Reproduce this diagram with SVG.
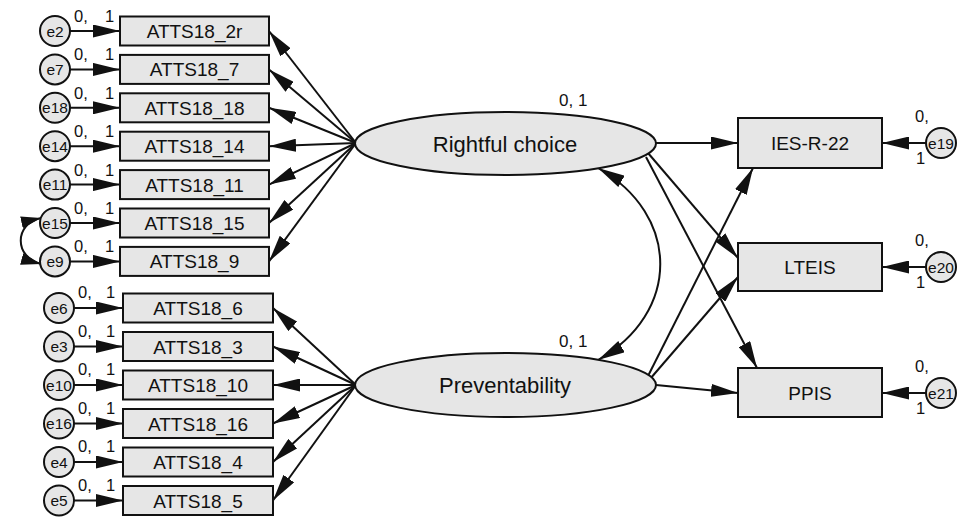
<svg xmlns="http://www.w3.org/2000/svg" width="958" height="518" viewBox="0 0 958 518">
<style>
.box{fill:#e6e6e6;stroke:#111;stroke-width:2}
.lat{fill:#e6e6e6;stroke:#111;stroke-width:2}
.err{fill:#e6e6e6;stroke:#111;stroke-width:2}
.ln{fill:none;stroke:#111;stroke-width:2}
.t{font-family:"Liberation Sans",Arial,sans-serif;fill:#111}
.bt{font-size:19px;text-anchor:middle}
.lt{font-size:22px;text-anchor:middle}
.et{font-size:15.5px;text-anchor:middle}
.pt{font-size:16.5px}
</style>
<defs>
<marker id="a" viewBox="0 0 27 13" refX="27" refY="6.5" markerWidth="27" markerHeight="13" markerUnits="userSpaceOnUse" orient="auto-start-reverse"><path d="M0,0 L27,6.5 L0,13 z" fill="#111"/></marker>
<marker id="s" viewBox="0 0 20 12" refX="20" refY="6" markerWidth="20" markerHeight="12" markerUnits="userSpaceOnUse" orient="auto-start-reverse"><path d="M0,0 L20,6 L0,12 z" fill="#111"/></marker>
</defs>
<g id="connectors">
<line class="ln" x1="356" y1="143" x2="269" y2="31" marker-end="url(#a)"/>
<line class="ln" x1="356" y1="143" x2="269" y2="69.4" marker-end="url(#a)"/>
<line class="ln" x1="356" y1="143" x2="269" y2="107.8" marker-end="url(#a)"/>
<line class="ln" x1="356" y1="143" x2="269" y2="146.2" marker-end="url(#a)"/>
<line class="ln" x1="356" y1="143" x2="269" y2="184.6" marker-end="url(#a)"/>
<line class="ln" x1="356" y1="143" x2="269" y2="223" marker-end="url(#a)"/>
<line class="ln" x1="356" y1="143" x2="269" y2="261.4" marker-end="url(#a)"/>
<line class="ln" x1="356" y1="385" x2="273" y2="308" marker-end="url(#a)"/>
<line class="ln" x1="356" y1="385" x2="273" y2="346.5" marker-end="url(#a)"/>
<line class="ln" x1="356" y1="385" x2="273" y2="385" marker-end="url(#a)"/>
<line class="ln" x1="356" y1="385" x2="273" y2="423.5" marker-end="url(#a)"/>
<line class="ln" x1="356" y1="385" x2="273" y2="462" marker-end="url(#a)"/>
<line class="ln" x1="356" y1="385" x2="273" y2="500.5" marker-end="url(#a)"/>
<line class="ln" x1="70" y1="31" x2="120" y2="31" marker-end="url(#a)"/>
<line class="ln" x1="70" y1="69.4" x2="120" y2="69.4" marker-end="url(#a)"/>
<line class="ln" x1="70" y1="107.8" x2="120" y2="107.8" marker-end="url(#a)"/>
<line class="ln" x1="70" y1="146.2" x2="120" y2="146.2" marker-end="url(#a)"/>
<line class="ln" x1="70" y1="184.6" x2="120" y2="184.6" marker-end="url(#a)"/>
<line class="ln" x1="70" y1="223" x2="120" y2="223" marker-end="url(#a)"/>
<line class="ln" x1="70" y1="261.4" x2="120" y2="261.4" marker-end="url(#a)"/>
<line class="ln" x1="74" y1="308" x2="123" y2="308" marker-end="url(#a)"/>
<line class="ln" x1="74" y1="346.5" x2="123" y2="346.5" marker-end="url(#a)"/>
<line class="ln" x1="74" y1="385" x2="123" y2="385" marker-end="url(#a)"/>
<line class="ln" x1="74" y1="423.5" x2="123" y2="423.5" marker-end="url(#a)"/>
<line class="ln" x1="74" y1="462" x2="123" y2="462" marker-end="url(#a)"/>
<line class="ln" x1="74" y1="500.5" x2="123" y2="500.5" marker-end="url(#a)"/>
<path class="ln" d="M41,218 C14,224 14,257 41,264" marker-start="url(#s)" marker-end="url(#s)"/>
<path class="ln" d="M598,168 C681,215 681,313 598,360" marker-start="url(#a)" marker-end="url(#a)"/>
<line class="ln" x1="656" y1="143" x2="738" y2="143" marker-end="url(#a)"/>
<line class="ln" x1="648" y1="153" x2="738" y2="258" marker-end="url(#a)"/>
<line class="ln" x1="646" y1="157" x2="757" y2="368" marker-end="url(#a)"/>
<line class="ln" x1="648" y1="376" x2="753" y2="168" marker-end="url(#a)"/>
<line class="ln" x1="650" y1="379" x2="738" y2="277" marker-end="url(#a)"/>
<line class="ln" x1="656" y1="385" x2="738" y2="393" marker-end="url(#a)"/>
<line class="ln" x1="926" y1="143" x2="882" y2="143" marker-end="url(#a)"/>
<line class="ln" x1="926" y1="267" x2="882" y2="267" marker-end="url(#a)"/>
<line class="ln" x1="926" y1="393" x2="882" y2="393" marker-end="url(#a)"/>
</g>
<g id="RightfulChoice"><ellipse class="lat" cx="505.5" cy="143.5" rx="150.5" ry="31.5"/><text class="t lt" x="505" y="151.5">Rightful choice</text><text class="t" style="font-size:17px" x="559" y="106">0, 1</text></g>
<g id="Preventability"><ellipse class="lat" cx="505.5" cy="385" rx="150.5" ry="32"/><text class="t lt" x="505" y="393">Preventability</text><text class="t" style="font-size:17px" x="559" y="347">0, 1</text></g>
<g id="ATTS18_2r"><rect class="box" x="120" y="16.5" width="149" height="29"/><text class="t bt" x="194.5" y="38">ATTS18_2r</text></g>
<g id="ATTS18_7"><rect class="box" x="120" y="54.9" width="149" height="29"/><text class="t bt" x="194.5" y="76.4">ATTS18_7</text></g>
<g id="ATTS18_18"><rect class="box" x="120" y="93.3" width="149" height="29"/><text class="t bt" x="194.5" y="114.8">ATTS18_18</text></g>
<g id="ATTS18_14"><rect class="box" x="120" y="131.7" width="149" height="29"/><text class="t bt" x="194.5" y="153.2">ATTS18_14</text></g>
<g id="ATTS18_11"><rect class="box" x="120" y="170.1" width="149" height="29"/><text class="t bt" x="194.5" y="191.6">ATTS18_11</text></g>
<g id="ATTS18_15"><rect class="box" x="120" y="208.5" width="149" height="29"/><text class="t bt" x="194.5" y="230">ATTS18_15</text></g>
<g id="ATTS18_9"><rect class="box" x="120" y="246.9" width="149" height="29"/><text class="t bt" x="194.5" y="268.4">ATTS18_9</text></g>
<g id="ATTS18_6"><rect class="box" x="123" y="293.5" width="150" height="29"/><text class="t bt" x="198" y="315">ATTS18_6</text></g>
<g id="ATTS18_3"><rect class="box" x="123" y="332" width="150" height="29"/><text class="t bt" x="198" y="353.5">ATTS18_3</text></g>
<g id="ATTS18_10"><rect class="box" x="123" y="370.5" width="150" height="29"/><text class="t bt" x="198" y="392">ATTS18_10</text></g>
<g id="ATTS18_16"><rect class="box" x="123" y="409" width="150" height="29"/><text class="t bt" x="198" y="430.5">ATTS18_16</text></g>
<g id="ATTS18_4"><rect class="box" x="123" y="447.5" width="150" height="29"/><text class="t bt" x="198" y="469">ATTS18_4</text></g>
<g id="ATTS18_5"><rect class="box" x="123" y="486" width="150" height="29"/><text class="t bt" x="198" y="507.5">ATTS18_5</text></g>
<g id="IES-R-22"><rect class="box" x="738" y="118" width="144" height="50"/><text class="t bt" x="810" y="150">IES-R-22</text></g>
<g id="LTEIS"><rect class="box" x="738" y="243" width="144" height="48"/><text class="t bt" x="810" y="274">LTEIS</text></g>
<g id="PPIS"><rect class="box" x="738" y="368" width="144" height="49"/><text class="t bt" x="810" y="399.5">PPIS</text></g>
<g id="e2"><circle class="err" cx="55" cy="31" r="15"/><text class="t et" x="55" y="36.5">e2</text><text class="t pt" x="74" y="22">0,</text><text class="t pt" x="105" y="22">1</text></g>
<g id="e7"><circle class="err" cx="55" cy="69.4" r="15"/><text class="t et" x="55" y="74.9">e7</text><text class="t pt" x="74" y="60.4">0,</text><text class="t pt" x="105" y="60.4">1</text></g>
<g id="e18"><circle class="err" cx="55" cy="107.8" r="15"/><text class="t et" x="55" y="113.3">e18</text><text class="t pt" x="74" y="98.8">0,</text><text class="t pt" x="105" y="98.8">1</text></g>
<g id="e14"><circle class="err" cx="55" cy="146.2" r="15"/><text class="t et" x="55" y="151.7">e14</text><text class="t pt" x="74" y="137.2">0,</text><text class="t pt" x="105" y="137.2">1</text></g>
<g id="e11"><circle class="err" cx="55" cy="184.6" r="15"/><text class="t et" x="55" y="190.1">e11</text><text class="t pt" x="74" y="175.6">0,</text><text class="t pt" x="105" y="175.6">1</text></g>
<g id="e15"><circle class="err" cx="55" cy="223" r="15"/><text class="t et" x="55" y="228.5">e15</text><text class="t pt" x="74" y="214">0,</text><text class="t pt" x="105" y="214">1</text></g>
<g id="e9"><circle class="err" cx="55" cy="261.4" r="15"/><text class="t et" x="55" y="266.9">e9</text><text class="t pt" x="74" y="252.4">0,</text><text class="t pt" x="105" y="252.4">1</text></g>
<g id="e6"><circle class="err" cx="59" cy="308" r="15"/><text class="t et" x="59" y="313.5">e6</text><text class="t pt" x="78" y="298">0,</text><text class="t pt" x="106" y="298">1</text></g>
<g id="e3"><circle class="err" cx="59" cy="346.5" r="15"/><text class="t et" x="59" y="352">e3</text><text class="t pt" x="78" y="336.5">0,</text><text class="t pt" x="106" y="336.5">1</text></g>
<g id="e10"><circle class="err" cx="59" cy="385" r="15"/><text class="t et" x="59" y="390.5">e10</text><text class="t pt" x="78" y="375">0,</text><text class="t pt" x="106" y="375">1</text></g>
<g id="e16"><circle class="err" cx="59" cy="423.5" r="15"/><text class="t et" x="59" y="429">e16</text><text class="t pt" x="78" y="413.5">0,</text><text class="t pt" x="106" y="413.5">1</text></g>
<g id="e4"><circle class="err" cx="59" cy="462" r="15"/><text class="t et" x="59" y="467.5">e4</text><text class="t pt" x="78" y="452">0,</text><text class="t pt" x="106" y="452">1</text></g>
<g id="e5"><circle class="err" cx="59" cy="500.5" r="15"/><text class="t et" x="59" y="506">e5</text><text class="t pt" x="78" y="490.5">0,</text><text class="t pt" x="106" y="490.5">1</text></g>
<g id="e19"><circle class="err" cx="941" cy="143" r="15"/><text class="t et" x="941" y="148.5">e19</text><text class="t pt" x="915" y="122">0,</text><text class="t pt" x="916" y="164">1</text></g>
<g id="e20"><circle class="err" cx="941" cy="267" r="15"/><text class="t et" x="941" y="272.5">e20</text><text class="t pt" x="915" y="246">0,</text><text class="t pt" x="916" y="288">1</text></g>
<g id="e21"><circle class="err" cx="941" cy="393" r="15"/><text class="t et" x="941" y="398.5">e21</text><text class="t pt" x="915" y="372">0,</text><text class="t pt" x="916" y="414">1</text></g>
</svg>
